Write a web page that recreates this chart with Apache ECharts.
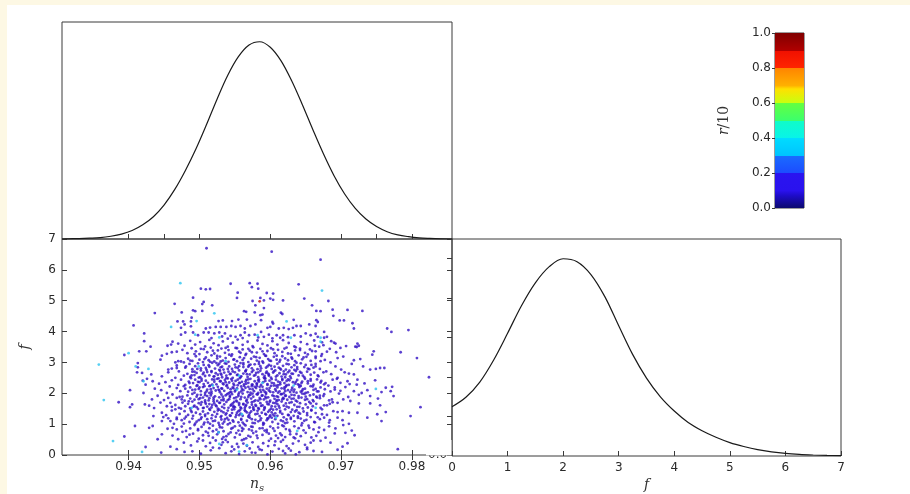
<!DOCTYPE html>
<html><head><meta charset="utf-8">
<script src="https://cdn.jsdelivr.net/npm/echarts@6/dist/echarts.min.js"></script>
<style>html,body{margin:0;padding:0;background:#ffffff;}#c{position:absolute;left:0;top:0;width:910px;height:494px;}</style>
</head><body><div id="c"></div>
<script>
// ---------- data ----------
const nsRange = [0.9306, 0.98565];
const fRange = [0, 7];
const nsTicks = [0.94, 0.95, 0.96, 0.97, 0.98];
const nsTopPanelTicks = [0.94, 0.945, 0.95, 0.96, 0.97, 0.975, 0.98];
const fPanelYTicks = [0.2, 0.4, 0.6, 0.8, 1.0];
const cbTicks = [0, 0.2, 0.4, 0.6, 0.8, 1.0];

// marginal of n_s (normalised to peak 1)
const nsCurveX = [0.9306,0.9315,0.9330,0.9345,0.9360,0.9375,0.9390,0.9405,0.9420,0.9435,0.9450,0.9465,0.9480,0.9495,0.9510,0.9525,0.9540,0.9555,0.9570,0.9585,0.9600,0.9615,0.9630,0.9645,0.9660,0.9675,0.9690,0.9705,0.9720,0.9735,0.9750,0.9765,0.9780,0.9795,0.9810,0.9825,0.9840,0.9857];
const nsCurveY = [0.000,0.001,0.002,0.004,0.007,0.014,0.025,0.043,0.072,0.113,0.172,0.250,0.346,0.456,0.580,0.710,0.830,0.924,0.983,1.000,0.972,0.904,0.803,0.683,0.555,0.432,0.321,0.228,0.155,0.101,0.063,0.037,0.021,0.012,0.006,0.003,0.001,0.000];

// marginal of f (normalised to peak 1)
const fCurveX = [0,0.25,0.5,0.75,1.0,1.25,1.5,1.75,2.0,2.25,2.5,2.75,3.0,3.25,3.5,3.75,4.0,4.25,4.5,4.75,5.0,5.25,5.5,5.75,6.0,6.25,6.5,6.75,7.0];
const fCurveY = [0.250,0.298,0.375,0.487,0.622,0.762,0.878,0.960,1.000,0.985,0.920,0.808,0.660,0.515,0.395,0.300,0.228,0.170,0.128,0.095,0.068,0.048,0.032,0.021,0.013,0.008,0.005,0.003,0.002];

// samples [n_s, f], grouped by colour value r/10
const samplesLowR = [
[0.9510,6.70],[0.9602,6.59],[0.9671,6.33],
[0.9544,5.55],[0.9571,5.57],[0.9582,5.55],[0.9640,5.53],
[0.9502,5.39],[0.9509,5.37],[0.9515,5.38],[0.9574,5.44],[0.9583,5.39],
[0.9554,5.26],[0.9595,5.25],[0.9604,5.23],
[0.9553,5.09],[0.9491,5.10],[0.9586,5.09],[0.9600,5.07],[0.9648,5.07],
[0.9575,4.99],[0.9506,4.96],[0.9591,5.01],[0.9604,5.03],[0.9618,5.01],[0.9682,4.99],
[0.9465,4.90],[0.9504,4.89],[0.9518,4.85],[0.9579,4.85],[0.9659,4.85],
[0.9591,4.76],[0.9688,4.71],[0.9709,4.70],[0.9730,4.67],[0.9665,4.67],[0.9671,4.66],
[0.9437,4.60],[0.9475,4.62],[0.9491,4.69],[0.9494,4.66],[0.9504,4.67],[0.9563,4.66],[0.9566,4.64],[0.9578,4.62],[0.9615,4.61],[0.9617,4.57],
[0.9586,4.53],[0.9589,4.55],[0.9689,4.51],[0.9489,4.45],
[0.9469,4.33],[0.9477,4.33],[0.9488,4.33],[0.9527,4.34],[0.9533,4.36],[0.9546,4.34],[0.9555,4.39],[0.9567,4.39],[0.9587,4.37],[0.9603,4.31],[0.9604,4.26],[0.9633,4.38],[0.9665,4.37],[0.9667,4.31],[0.9698,4.36],[0.9704,4.36],[0.9716,4.27],
[0.9407,4.20],[0.9474,4.12],[0.9479,4.23],[0.9488,4.17],[0.9509,4.10],[0.9515,4.13],[0.9523,4.15],[0.9530,4.15],[0.9538,4.15],[0.9545,4.18],[0.9551,4.15],[0.9558,4.18],[0.9564,4.10],[0.9572,4.18],[0.9579,4.23],[0.9596,4.12],[0.9600,4.15],[0.9612,4.10],[0.9619,4.12],[0.9626,4.08],[0.9632,4.12],[0.9637,4.18],[0.9643,4.18],[0.9655,4.23],[0.9664,4.18],[0.9718,4.10],[0.9765,4.10],[0.9795,4.05],
[0.9422,3.94],[0.9474,3.90],[0.9480,3.97],[0.9491,3.97],[0.9498,3.88],[0.9506,3.97],[0.9513,3.97],[0.9521,3.94],[0.9528,3.97],[0.9536,3.94],[0.9544,3.86],[0.9551,3.83],[0.9558,3.88],[0.9564,3.97],[0.9570,3.88],[0.9578,3.90],[0.9587,3.99],[0.9591,3.83],[0.9598,3.90],[0.9603,3.78],[0.9609,3.88],[0.9614,3.80],[0.9618,3.88],[0.9625,3.82],[0.9634,3.88],[0.9643,3.84],[0.9650,3.94],[0.9657,3.88],[0.9664,3.93],[0.9667,3.83],[0.9676,3.80],[0.9680,3.83],[0.9676,3.99],[0.9771,3.99],
[0.9517,3.79],[0.9540,3.77],[0.9561,3.79],[0.9583,3.81],[0.9532,3.84],
[0.9422,3.69],[0.9431,3.51],[0.9455,3.54],[0.9460,3.58],[0.9462,3.67],[0.9686,3.69],[0.9692,3.61],[0.9723,3.61],[0.9725,3.54],[0.9720,3.51],[0.9673,3.65],[0.9663,3.54],[0.9669,3.51],
[0.9470,3.61],[0.9479,3.54],[0.9487,3.70],[0.9494,3.58],[0.9501,3.66],[0.9508,3.52],[0.9514,3.73],[0.9520,3.62],[0.9527,3.56],[0.9533,3.68],[0.9540,3.51],[0.9547,3.64],[0.9554,3.74],[0.9561,3.57],[0.9568,3.67],[0.9575,3.53],[0.9582,3.71],[0.9589,3.60],[0.9596,3.55],[0.9603,3.69],[0.9610,3.58],[0.9618,3.72],[0.9626,3.63],[0.9634,3.52],[0.9643,3.66],[0.9652,3.59],[0.9662,3.71],[0.9675,3.56],[0.9690,3.64],[0.9707,3.53],
[0.9476,3.41],[0.9483,3.30],[0.9489,3.46],[0.9495,3.36],[0.9500,3.27],[0.9506,3.43],[0.9511,3.33],[0.9516,3.48],[0.9521,3.29],[0.9526,3.39],[0.9531,3.45],[0.9536,3.31],[0.9541,3.40],[0.9546,3.26],[0.9551,3.47],[0.9556,3.35],[0.9561,3.42],[0.9566,3.28],[0.9571,3.38],[0.9576,3.49],[0.9581,3.32],[0.9586,3.44],[0.9591,3.27],[0.9596,3.37],[0.9601,3.46],[0.9606,3.30],[0.9611,3.41],[0.9617,3.34],[0.9623,3.48],[0.9629,3.28],[0.9635,3.39],[0.9642,3.45],[0.9649,3.31],[0.9656,3.42],[0.9664,3.36],[0.9673,3.27],[0.9684,3.44],
[0.9484,3.12],[0.9490,3.05],[0.9495,3.20],[0.9500,3.09],[0.9505,3.01],[0.9509,3.16],[0.9513,3.07],[0.9517,3.23],[0.9521,3.03],[0.9525,3.13],[0.9529,3.19],[0.9533,3.06],[0.9537,3.14],[0.9541,3.02],[0.9545,3.21],[0.9549,3.10],[0.9553,3.04],[0.9557,3.17],[0.9561,3.08],[0.9565,3.24],[0.9569,3.01],[0.9573,3.12],[0.9577,3.19],[0.9581,3.06],[0.9585,3.15],[0.9589,3.03],[0.9593,3.22],[0.9597,3.11],[0.9601,3.05],[0.9605,3.18],[0.9609,3.09],[0.9613,3.02],[0.9617,3.20],[0.9621,3.13],[0.9625,3.07],[0.9630,3.16],[0.9635,3.04],[0.9640,3.23],[0.9645,3.10],[0.9651,3.18],[0.9657,3.05],[0.9664,3.14],[0.9672,3.21],[0.9677,3.08],[0.9703,3.19],[0.9727,3.11],
[0.9468,2.90],[0.9480,2.83],[0.9486,2.95],[0.9490,2.78],[0.9494,2.88],[0.9498,2.97],[0.9502,2.81],[0.9506,2.92],[0.9510,2.76],[0.9514,2.86],[0.9518,2.99],[0.9522,2.80],[0.9526,2.91],[0.9530,2.84],[0.9534,2.77],[0.9538,2.96],[0.9542,2.87],[0.9546,2.79],[0.9550,2.93],[0.9554,2.82],[0.9558,2.98],[0.9562,2.85],[0.9566,2.76],[0.9570,2.90],[0.9574,2.81],[0.9578,2.94],[0.9582,2.78],[0.9586,2.88],[0.9590,2.99],[0.9594,2.83],[0.9598,2.92],[0.9602,2.79],[0.9606,2.86],[0.9610,2.96],[0.9614,2.80],[0.9618,2.89],[0.9622,2.77],[0.9626,2.94],[0.9630,2.84],[0.9634,2.91],[0.9638,2.78],[0.9643,2.97],[0.9648,2.85],[0.9653,2.80],[0.9658,2.92],[0.9664,2.87],[0.9670,2.79],[0.9715,2.95],[0.9562,2.93],[0.9596,2.87],[0.9528,2.96],
[0.9483,2.63],[0.9487,2.53],[0.9490,2.70],[0.9493,2.59],[0.9496,2.66],[0.9499,2.51],[0.9502,2.74],[0.9505,2.62],[0.9508,2.56],[0.9511,2.69],[0.9514,2.58],[0.9517,2.72],[0.9520,2.54],[0.9523,2.65],[0.9526,2.60],[0.9529,2.73],[0.9532,2.52],[0.9535,2.67],[0.9538,2.57],[0.9541,2.70],[0.9544,2.63],[0.9547,2.50],[0.9550,2.68],[0.9553,2.59],[0.9556,2.74],[0.9559,2.55],[0.9562,2.64],[0.9565,2.71],[0.9568,2.53],[0.9571,2.61],[0.9574,2.69],[0.9577,2.57],[0.9580,2.66],[0.9583,2.52],[0.9586,2.73],[0.9589,2.62],[0.9592,2.56],[0.9595,2.70],[0.9598,2.60],[0.9601,2.51],[0.9604,2.67],[0.9607,2.74],[0.9610,2.58],[0.9613,2.65],[0.9616,2.54],[0.9619,2.71],[0.9622,2.61],[0.9625,2.68],[0.9628,2.55],[0.9632,2.63],[0.9636,2.72],[0.9640,2.58],[0.9644,2.66],[0.9648,2.52],[0.9652,2.70],[0.9657,2.60],[0.9662,2.67],[0.9668,2.55],[0.9686,2.62],[0.9456,2.68],[0.9567,2.62],[0.9597,2.64],[0.9531,2.60],
[0.9443,2.31],[0.9461,2.42],[0.9480,2.27],[0.9485,2.38],[0.9488,2.49],[0.9491,2.33],[0.9494,2.44],[0.9497,2.26],[0.9500,2.36],[0.9503,2.47],[0.9506,2.30],[0.9509,2.41],[0.9512,2.34],[0.9515,2.25],[0.9518,2.45],[0.9521,2.37],[0.9524,2.29],[0.9527,2.48],[0.9530,2.39],[0.9533,2.32],[0.9536,2.43],[0.9539,2.27],[0.9542,2.35],[0.9545,2.46],[0.9548,2.31],[0.9551,2.40],[0.9554,2.26],[0.9557,2.49],[0.9560,2.37],[0.9563,2.29],[0.9566,2.43],[0.9569,2.34],[0.9572,2.47],[0.9575,2.28],[0.9578,2.39],[0.9581,2.32],[0.9584,2.45],[0.9587,2.27],[0.9590,2.36],[0.9593,2.48],[0.9596,2.30],[0.9599,2.41],[0.9602,2.34],[0.9605,2.25],[0.9608,2.44],[0.9611,2.38],[0.9614,2.29],[0.9617,2.46],[0.9620,2.33],[0.9623,2.40],[0.9626,2.27],[0.9629,2.49],[0.9632,2.36],[0.9635,2.31],[0.9638,2.43],[0.9641,2.26],[0.9645,2.38],[0.9649,2.47],[0.9653,2.32],[0.9657,2.41],[0.9661,2.28],[0.9666,2.45],[0.9671,2.35],[0.9676,2.29],[0.9694,2.47],[0.9712,2.30],[0.9748,2.42],[0.9556,2.34],[0.9583,2.42],[0.9611,2.26],[0.9540,2.48],[0.9625,2.45],
[0.9437,2.15],[0.9458,2.22],[0.9484,2.05],[0.9487,2.19],[0.9490,2.11],[0.9493,2.02],[0.9496,2.24],[0.9499,2.14],[0.9502,2.07],[0.9505,2.20],[0.9508,2.01],[0.9511,2.12],[0.9514,2.23],[0.9517,2.05],[0.9520,2.17],[0.9523,2.09],[0.9526,2.21],[0.9529,2.03],[0.9532,2.15],[0.9535,2.08],[0.9538,2.24],[0.9541,2.00],[0.9544,2.13],[0.9547,2.19],[0.9550,2.06],[0.9553,2.16],[0.9556,2.02],[0.9559,2.22],[0.9562,2.10],[0.9565,2.18],[0.9568,2.04],[0.9571,2.14],[0.9574,2.23],[0.9577,2.07],[0.9580,2.17],[0.9583,2.01],[0.9586,2.11],[0.9589,2.21],[0.9592,2.05],[0.9595,2.15],[0.9598,2.09],[0.9601,2.24],[0.9604,2.03],[0.9607,2.13],[0.9610,2.19],[0.9613,2.06],[0.9616,2.16],[0.9619,2.00],[0.9622,2.22],[0.9625,2.10],[0.9628,2.04],[0.9631,2.18],[0.9634,2.12],[0.9637,2.02],[0.9641,2.20],[0.9645,2.08],[0.9649,2.15],[0.9653,2.03],[0.9657,2.23],[0.9661,2.11],[0.9666,2.06],[0.9671,2.19],[0.9677,2.13],[0.9699,2.08],[0.9706,2.20],[0.9737,2.10],[0.9757,2.04],[0.9545,2.04],[0.9569,2.21],[0.9594,2.02],[0.9620,2.14],[0.9527,2.12],[0.9643,2.05],[0.9581,2.24],[0.9500,2.19],
[0.9441,1.92],[0.9450,1.78],[0.9462,1.96],[0.9472,1.88],[0.9479,1.76],[0.9483,1.93],[0.9487,1.83],[0.9490,1.98],[0.9493,1.79],[0.9496,1.89],[0.9499,1.81],[0.9502,1.95],[0.9505,1.86],[0.9508,1.77],[0.9511,1.91],[0.9514,1.84],[0.9517,1.99],[0.9520,1.80],[0.9522,1.90],[0.9525,1.75],[0.9528,1.87],[0.9531,1.96],[0.9534,1.82],[0.9537,1.93],[0.9540,1.78],[0.9543,1.88],[0.9546,1.97],[0.9549,1.84],[0.9552,1.76],[0.9555,1.91],[0.9558,1.81],[0.9561,1.99],[0.9564,1.86],[0.9567,1.79],[0.9570,1.94],[0.9573,1.83],[0.9576,1.89],[0.9579,1.77],[0.9582,1.96],[0.9585,1.85],[0.9588,1.92],[0.9591,1.80],[0.9594,1.98],[0.9597,1.87],[0.9600,1.76],[0.9603,1.93],[0.9606,1.82],[0.9609,1.90],[0.9612,1.78],[0.9615,1.97],[0.9618,1.85],[0.9621,1.92],[0.9624,1.79],[0.9627,1.88],[0.9630,1.95],[0.9633,1.83],[0.9636,1.76],[0.9640,1.91],[0.9644,1.86],[0.9648,1.98],[0.9652,1.81],[0.9656,1.93],[0.9660,1.78],[0.9665,1.89],[0.9670,1.84],[0.9676,1.97],[0.9683,1.77],[0.9710,1.88],[0.9725,1.95],[0.9752,1.83],[0.9559,1.88],[0.9593,1.89],[0.9534,1.77],[0.9617,1.80],[0.9575,1.99],[0.9508,1.94],[0.9650,1.89],
[0.9466,1.62],[0.9471,1.53],[0.9476,1.70],[0.9480,1.58],[0.9484,1.66],[0.9487,1.51],[0.9490,1.73],[0.9493,1.60],[0.9496,1.55],[0.9499,1.68],[0.9502,1.63],[0.9505,1.52],[0.9508,1.71],[0.9511,1.57],[0.9514,1.65],[0.9517,1.54],[0.9520,1.74],[0.9523,1.61],[0.9526,1.50],[0.9529,1.69],[0.9532,1.56],[0.9535,1.64],[0.9538,1.72],[0.9541,1.53],[0.9544,1.60],[0.9547,1.67],[0.9550,1.55],[0.9553,1.73],[0.9556,1.62],[0.9559,1.51],[0.9562,1.66],[0.9565,1.58],[0.9568,1.70],[0.9571,1.54],[0.9574,1.63],[0.9577,1.74],[0.9580,1.59],[0.9583,1.52],[0.9586,1.68],[0.9589,1.61],[0.9592,1.55],[0.9595,1.72],[0.9598,1.64],[0.9601,1.50],[0.9604,1.69],[0.9607,1.57],[0.9610,1.65],[0.9613,1.53],[0.9616,1.73],[0.9619,1.60],[0.9622,1.67],[0.9626,1.54],[0.9630,1.71],[0.9634,1.62],[0.9638,1.56],[0.9642,1.68],[0.9646,1.51],[0.9650,1.64],[0.9655,1.72],[0.9660,1.58],[0.9665,1.66],[0.9671,1.53],[0.9688,1.71],[0.9454,1.58],[0.9445,1.70],[0.9436,1.52],[0.9566,1.62],[0.9521,1.67],[0.9609,1.74],[0.9548,1.59],
[0.9484,1.30],[0.9488,1.44],[0.9491,1.27],[0.9495,1.37],[0.9498,1.49],[0.9501,1.32],[0.9505,1.41],[0.9508,1.26],[0.9512,1.35],[0.9515,1.46],[0.9518,1.29],[0.9521,1.40],[0.9525,1.33],[0.9528,1.47],[0.9531,1.26],[0.9534,1.38],[0.9537,1.31],[0.9540,1.44],[0.9543,1.28],[0.9546,1.36],[0.9549,1.48],[0.9552,1.30],[0.9555,1.42],[0.9558,1.34],[0.9561,1.27],[0.9564,1.45],[0.9567,1.38],[0.9570,1.29],[0.9573,1.41],[0.9576,1.49],[0.9579,1.32],[0.9582,1.43],[0.9585,1.26],[0.9588,1.37],[0.9591,1.46],[0.9594,1.31],[0.9597,1.40],[0.9600,1.28],[0.9604,1.47],[0.9607,1.35],[0.9610,1.27],[0.9614,1.43],[0.9617,1.33],[0.9621,1.48],[0.9625,1.30],[0.9629,1.39],[0.9633,1.27],[0.9637,1.45],[0.9642,1.34],[0.9647,1.41],[0.9652,1.29],[0.9658,1.46],[0.9664,1.36],[0.9472,1.33],[0.9461,1.44],[0.9453,1.29],[0.9680,1.30],[0.9557,1.45],[0.9602,1.38],[0.9531,1.42],
[0.9486,1.07],[0.9490,1.18],[0.9494,1.02],[0.9499,1.13],[0.9503,1.22],[0.9507,1.05],[0.9511,1.16],[0.9515,1.01],[0.9519,1.10],[0.9523,1.24],[0.9527,1.04],[0.9531,1.15],[0.9535,1.08],[0.9539,1.20],[0.9543,1.03],[0.9547,1.12],[0.9551,1.23],[0.9555,1.06],[0.9559,1.17],[0.9563,1.00],[0.9567,1.11],[0.9571,1.21],[0.9575,1.04],[0.9579,1.14],[0.9583,1.09],[0.9587,1.19],[0.9591,1.02],[0.9595,1.13],[0.9599,1.24],[0.9603,1.07],[0.9607,1.16],[0.9611,1.01],[0.9615,1.12],[0.9619,1.22],[0.9624,1.05],[0.9629,1.17],[0.9634,1.09],[0.9639,1.20],[0.9645,1.03],[0.9651,1.14],[0.9657,1.23],[0.9663,1.06],[0.9670,1.16],[0.9478,1.02],[0.9468,1.16],[0.9456,1.19],[0.9597,1.18],[0.9541,1.14],
[0.9475,0.92],[0.9481,0.78],[0.9487,0.86],[0.9493,0.97],[0.9498,0.80],[0.9503,0.91],[0.9509,0.76],[0.9514,0.87],[0.9519,0.95],[0.9524,0.82],[0.9529,0.90],[0.9534,0.77],[0.9540,0.99],[0.9545,0.85],[0.9550,0.93],[0.9555,0.79],[0.9560,0.88],[0.9565,0.96],[0.9570,0.83],[0.9575,0.91],[0.9580,0.76],[0.9585,0.86],[0.9590,0.98],[0.9595,0.81],[0.9600,0.92],[0.9606,0.78],[0.9611,0.89],[0.9617,0.96],[0.9622,0.84],[0.9628,0.76],[0.9634,0.93],[0.9640,0.87],[0.9647,0.80],[0.9654,0.95],[0.9661,0.83],[0.9683,0.93],[0.9692,0.86],[0.9703,0.97],[0.9715,0.79],[0.9560,0.78],
[0.9482,0.58],[0.9491,0.69],[0.9499,0.53],[0.9505,0.64],[0.9512,0.72],[0.9519,0.56],[0.9525,0.67],[0.9532,0.52],[0.9538,0.61],[0.9544,0.73],[0.9550,0.57],[0.9557,0.66],[0.9563,0.51],[0.9569,0.62],[0.9576,0.71],[0.9582,0.55],[0.9589,0.65],[0.9595,0.74],[0.9601,0.53],[0.9608,0.63],[0.9614,0.70],[0.9621,0.58],[0.9628,0.67],[0.9635,0.54],[0.9643,0.61],[0.9650,0.72],[0.9658,0.57],[0.9462,0.63],[0.9572,0.59],[0.9527,0.74],
[0.9488,0.31],[0.9497,0.44],[0.9509,0.28],[0.9515,0.39],[0.9523,0.47],[0.9531,0.33],[0.9540,0.42],[0.9546,0.27],[0.9553,0.36],[0.9560,0.48],[0.9567,0.30],[0.9575,0.41],[0.9583,0.26],[0.9590,0.38],[0.9598,0.46],[0.9606,0.32],[0.9615,0.43],[0.9623,0.29],[0.9632,0.37],[0.9640,0.45],[0.9618,0.49],[0.9537,0.49],
[0.9502,0.04],[0.9516,0.15],[0.9528,0.22],[0.9537,0.06],[0.9549,0.18],[0.9556,0.03],[0.9564,0.12],[0.9571,0.21],[0.9579,0.07],[0.9588,0.16],[0.9596,0.02],[0.9603,0.11],[0.9612,0.20],[0.9621,0.05],[0.9629,0.14],[0.9641,0.09],[0.9652,0.19],[0.9490,0.12],
[0.9394,3.24],[0.9425,3.36],[0.9415,3.36],[0.9413,2.98],[0.9445,3.09],[0.9447,3.22],[0.9454,3.28],[0.9461,3.33],[0.9468,3.35],[0.9466,3.00],[0.9470,3.04],[0.9474,3.03],[0.9478,3.00],[0.9413,2.84],[0.9456,2.77],[0.9461,2.80],[0.9468,2.82],[0.9471,2.71],[0.9412,2.68],[0.9419,2.66],[0.9432,2.61],[0.9447,2.55],[0.9466,2.50],[0.9474,2.44],[0.9478,2.57],[0.9426,2.47],[0.9434,2.39],[0.9420,2.41],[0.9452,2.36],[0.9424,2.28],[0.9468,2.17],[0.9478,2.23],[0.9402,2.10],[0.9421,2.01],[0.9446,2.10],[0.9454,2.01],[0.9473,2.07],[0.9433,1.80],[0.9456,1.85],[0.9468,1.85],[0.9475,1.80],[0.9386,1.71],[0.9405,1.64],[0.9402,1.55],[0.9423,1.64],[0.9429,1.60],[0.9459,1.69],[0.9461,1.56],[0.9466,1.48],[0.9474,1.50],[0.9479,1.42],[0.9447,1.37],[0.9435,1.26],[0.9449,1.23],[0.9468,1.21],[0.9475,1.13],[0.9481,1.24],[0.9447,1.10],[0.9459,1.10],[0.9464,1.01],[0.9409,0.94],[0.9429,0.88],[0.9434,0.94],[0.9455,0.85],[0.9462,0.88],[0.9468,0.83],[0.9476,0.75],[0.9394,0.60],[0.9447,0.67],[0.9441,0.51],[0.9470,0.51],[0.9424,0.26],[0.9459,0.27],[0.9478,0.40],[0.9446,0.08],[0.9468,0.19],[0.9479,0.10],
[0.9722,3.50],[0.9746,3.36],[0.9744,3.25],[0.9784,3.33],[0.9807,3.14],[0.9824,2.52],[0.9718,3.07],[0.9731,2.87],[0.9741,2.77],[0.9749,2.79],[0.9755,2.82],[0.9761,2.82],[0.9705,2.68],[0.9711,2.64],[0.9718,2.61],[0.9723,2.44],[0.9709,2.39],[0.9699,2.34],[0.9733,2.32],[0.9722,2.28],[0.9763,2.18],[0.9772,2.21],[0.9770,2.07],[0.9774,1.91],[0.9718,2.07],[0.9729,2.01],[0.9741,1.91],[0.9703,1.80],[0.9713,1.75],[0.9725,1.67],[0.9741,1.67],[0.9755,1.61],[0.9812,1.55],[0.9751,1.32],[0.9763,1.39],[0.9702,1.42],[0.9711,1.37],[0.9723,1.37],[0.9737,1.21],[0.9798,1.26],[0.9757,1.10],[0.9695,1.21],[0.9702,1.13],[0.9711,1.01],[0.9706,0.72],[0.9719,0.64],[0.9691,0.70],[0.9678,0.56],[0.9685,0.40],[0.9709,0.38],[0.9702,0.27],[0.9695,0.17],[0.9780,0.19],[0.9669,0.89],[0.9676,0.81],[0.9683,1.05],[0.9665,0.62],[0.9671,0.46],[0.9657,0.40],[0.9652,0.24],[0.9661,0.13],[0.9673,0.10],[0.9699,3.47],[0.9693,3.33],[0.9695,3.14],[0.9685,3.00],[0.9692,2.87],[0.9700,2.77],[0.9679,2.71],[0.9688,2.44],[0.9695,2.50],[0.9682,2.25],[0.9691,2.12],[0.9697,1.99],[0.9675,1.91],[0.9687,1.80],[0.9695,1.69],[0.9680,1.61],[0.9673,1.48],[0.9689,1.42],[0.9695,1.39],[0.9676,1.21],[0.9684,1.13],
[0.9513,0.62],[0.9547,0.88],[0.9566,0.54],[0.9592,0.79],[0.9619,0.93],[0.9637,0.68],[0.9528,0.97],[0.9581,0.63],[0.9604,0.86],[0.9552,0.71],[0.9498,0.84],[0.9644,0.96],[0.9573,0.92],[0.9534,0.58],[0.9611,0.55],[0.9589,0.87],[0.9506,0.99],[0.9627,0.81],[0.9541,0.68],[0.9668,0.74],[0.9557,0.95],[0.9519,0.77],[0.9598,0.69],[0.9633,0.57],[0.9574,0.79],[0.9486,0.66],[0.9655,0.88],[0.9616,0.64],[0.9562,0.84],[0.9532,0.89],
[0.9496,1.08],[0.9508,1.31],[0.9517,1.19],[0.9526,1.44],[0.9533,1.02],[0.9544,1.27],[0.9553,1.37],[0.9561,1.05],[0.9569,1.24],[0.9577,1.46],[0.9586,1.13],[0.9593,1.33],[0.9602,1.21],[0.9609,1.48],[0.9618,1.09],[0.9626,1.29],[0.9635,1.41],[0.9643,1.18],[0.9652,1.36],[0.9662,1.07],[0.9673,1.32],[0.9489,1.39],[0.9502,1.17],[0.9514,1.49],[0.9522,1.11],[0.9538,1.35],[0.9548,1.08],[0.9556,1.29],[0.9565,1.42],[0.9574,1.16],[0.9582,1.34],[0.9590,1.04],[0.9599,1.45],[0.9606,1.26],[0.9614,1.38],[0.9623,1.15],[0.9631,1.47],[0.9639,1.25],[0.9648,1.11],[0.9658,1.44],[0.9667,1.22],[0.9479,1.18],[0.9530,1.23],[0.9571,1.36],[0.9596,1.19],[0.9621,1.03],[0.9546,1.47],[0.9512,1.06],[0.9584,1.49],[0.9640,1.37],[0.9559,1.14],[0.9604,1.31],[0.9536,1.16],[0.9578,1.03],[0.9629,1.21],
[0.9492,1.57],[0.9501,1.84],[0.9509,1.66],[0.9516,1.93],[0.9524,1.58],[0.9531,1.78],[0.9539,1.97],[0.9545,1.63],[0.9552,1.87],[0.9558,1.54],[0.9566,1.75],[0.9572,1.95],[0.9579,1.62],[0.9586,1.81],[0.9592,1.51],[0.9599,1.72],[0.9605,1.91],[0.9612,1.59],[0.9619,1.83],[0.9627,1.69],[0.9634,1.94],[0.9641,1.56],[0.9649,1.79],[0.9657,1.67],[0.9666,1.86],[0.9676,1.61],[0.9485,1.74],[0.9497,1.95],[0.9506,1.53],[0.9513,1.77],[0.9520,1.86],[0.9528,1.69],[0.9535,1.52],[0.9542,1.81],[0.9549,1.72],[0.9555,1.96],[0.9562,1.64],[0.9569,1.88],[0.9576,1.55],[0.9583,1.76],[0.9589,1.93],[0.9596,1.65],[0.9602,1.58],[0.9609,1.78],[0.9616,1.97],[0.9623,1.57],[0.9630,1.82],[0.9638,1.73],[0.9645,1.99],[0.9653,1.54],[0.9661,1.74],[0.9670,1.92],[0.9684,1.66],[0.9476,1.89],[0.9556,1.68],[0.9581,1.97],[0.9607,1.68],[0.9533,1.89],[0.9594,1.84],[0.9564,1.52],[0.9622,1.92],[0.9548,1.55],[0.9518,1.62],[0.9640,1.85],[0.9574,1.71],[0.9503,1.71],[0.9587,1.59],[0.9611,1.88],[0.9661,1.96],[0.9543,1.92],
[0.9486,2.33],[0.9494,2.12],[0.9503,2.41],[0.9510,2.06],[0.9518,2.28],[0.9525,2.47],[0.9531,2.16],[0.9537,2.36],[0.9543,2.03],[0.9549,2.26],[0.9554,2.44],[0.9560,2.14],[0.9566,2.31],[0.9572,2.02],[0.9578,2.21],[0.9584,2.38],[0.9590,2.11],[0.9596,2.27],[0.9602,2.46],[0.9608,2.08],[0.9614,2.35],[0.9620,2.19],[0.9627,2.42],[0.9633,2.05],[0.9639,2.29],[0.9646,2.13],[0.9653,2.39],[0.9660,2.22],[0.9668,2.06],[0.9678,2.33],[0.9691,2.19],[0.9480,2.15],[0.9498,2.37],[0.9507,2.23],[0.9514,2.01],[0.9521,2.44],[0.9528,2.09],[0.9534,2.29],[0.9540,2.18],[0.9546,2.41],[0.9551,2.10],[0.9557,2.33],[0.9563,2.24],[0.9569,2.45],[0.9575,2.13],[0.9581,2.30],[0.9587,2.04],[0.9593,2.40],[0.9599,2.17],[0.9605,2.32],[0.9611,2.02],[0.9617,2.43],[0.9623,2.26],[0.9630,2.11],[0.9636,2.37],[0.9643,2.24],[0.9650,2.01],[0.9657,2.46],[0.9664,2.14],[0.9672,2.40],[0.9685,2.06],[0.9470,2.27],[0.9559,2.06],[0.9585,2.21],[0.9608,2.25],[0.9538,2.49],[0.9565,2.38],[0.9621,2.07],[0.9592,2.48],[0.9516,2.13],[0.9644,2.33],[0.9574,2.28],[0.9548,2.16],[0.9600,2.05],[0.9529,2.39],
[0.9489,2.58],[0.9497,2.79],[0.9506,2.67],[0.9513,2.91],[0.9521,2.55],[0.9528,2.76],[0.9536,2.97],[0.9543,2.62],[0.9551,2.84],[0.9558,2.53],[0.9565,2.72],[0.9572,2.93],[0.9579,2.59],[0.9587,2.81],[0.9594,2.66],[0.9601,2.89],[0.9608,2.54],[0.9615,2.77],[0.9623,2.95],[0.9630,2.64],[0.9638,2.85],[0.9646,2.57],[0.9655,2.78],[0.9664,2.95],[0.9675,2.68],[0.9481,2.87],[0.9501,2.52],[0.9517,2.69],[0.9532,2.86],[0.9547,2.71],[0.9562,2.98],[0.9576,2.74],[0.9591,2.51],[0.9605,2.71],[0.9619,2.62],[0.9634,2.76],[0.9650,2.92],[0.9667,2.58],[0.9524,2.98],[0.9554,2.60],[0.9584,2.95],[0.9612,2.83],[0.9642,2.69],[0.9509,2.82],[0.9569,2.86],[0.9598,2.57],[0.9627,2.73],[0.9540,2.79],[0.9661,2.83],[0.9493,2.70],[0.9583,2.68],[0.9556,2.88],[0.9621,2.52],[0.9637,2.99],[0.9530,2.64],
[0.9493,3.27],[0.9507,3.11],[0.9519,3.38],[0.9530,3.03],[0.9542,3.25],[0.9553,3.46],[0.9563,3.14],[0.9574,3.33],[0.9584,3.02],[0.9594,3.21],[0.9604,3.42],[0.9614,3.08],[0.9625,3.29],[0.9636,3.49],[0.9647,3.16],[0.9659,3.37],[0.9671,3.04],[0.9502,3.44],[0.9525,3.21],[0.9548,3.09],[0.9569,3.44],[0.9589,3.36],[0.9609,3.22],[0.9631,3.12],[0.9653,3.26],[0.9680,3.35],[0.9515,3.02],[0.9558,3.31],[0.9599,3.06],[0.9642,3.40],[0.9537,3.47],[0.9580,3.17],[0.9620,3.45],[0.9487,3.06],[0.9664,3.19],
[0.9519,0.24],[0.9545,0.12],[0.9562,0.37],[0.9585,0.18],[0.9607,0.44],[0.9626,0.21],[0.9649,0.33],[0.9533,0.41],[0.9574,0.08],[0.9597,0.29],[0.9618,0.13],[0.9505,0.47],[0.9661,0.47],[0.9555,0.26],[0.9636,0.02]
];
const samplesMidR = [
[0.9473,5.57],[0.9521,4.59],[0.9496,4.34],[0.9460,4.15],[0.9494,3.90],[0.9673,5.33],[0.9623,4.33],[0.9582,3.88],[0.9629,3.80],[0.9671,3.80],[0.9671,3.67],[0.9400,3.30],[0.9358,2.93],[0.9410,2.87],[0.9428,2.79],[0.9421,2.39],[0.9365,1.78],[0.9378,0.45],[0.9419,0.10],[0.9749,2.14],[0.9589,2.34],[0.9608,1.21],[0.9638,0.78],[0.9664,1.53],[0.9553,2.12],[0.9560,1.32],[0.9527,0.73],[0.9567,0.32],[0.9489,1.53],[0.9499,2.87],[0.9537,3.04],[0.9528,3.81],[0.9556,2.57],[0.9633,2.25],[0.9519,2.25],[0.9528,0.36],[0.9556,0.11]
];
const samplesHighR = [[0.9585,4.98]];
const hiddenFPanelLabel = '0.0';

// ---------- chart ----------
const chart = echarts.init(document.getElementById('c'), null, {renderer: 'canvas'});
const tickFont = {fontFamily: 'DejaVu Sans', fontSize: 12, color: '#2a2a2a'};
const mathName = {fontFamily: 'DejaVu Serif', fontStyle: 'italic', fontSize: 14, color: '#333'};
const frame = {show: true, borderColor: '#3a3a3a', borderWidth: 1, backgroundColor: 'transparent'};
const tickStyle = {color: '#3a3a3a', width: 1};

const cbGradient = new echarts.graphic.LinearGradient(0, 1, 0, 0, [
  {offset: 0.00, color: '#0c0a6e'}, {offset: 0.07, color: '#1e0cc8'}, {offset: 0.10, color: '#2a12ee'},
  {offset: 0.20, color: '#2a14f0'}, {offset: 0.20, color: '#1c4cff'}, {offset: 0.30, color: '#1a6cff'},
  {offset: 0.30, color: '#00c4ff'}, {offset: 0.40, color: '#00dcff'}, {offset: 0.40, color: '#08f4e8'},
  {offset: 0.50, color: '#10fcc8'}, {offset: 0.50, color: '#3cff6c'}, {offset: 0.60, color: '#64ff40'},
  {offset: 0.60, color: '#c8ff10'}, {offset: 0.68, color: '#ffe000'}, {offset: 0.70, color: '#ffb000'},
  {offset: 0.80, color: '#ff8400'}, {offset: 0.80, color: '#ff2400'}, {offset: 0.90, color: '#f01000'},
  {offset: 0.90, color: '#b00000'}, {offset: 1.00, color: '#800000'}
]);

const option = {
  backgroundColor: '#ffffff',
  animation: false,
  graphic: [
    {type: 'rect', shape: {x: 0, y: 0, width: 910, height: 5}, style: {fill: '#fdf8e4'}, silent: true},
    {type: 'rect', shape: {x: 0, y: 0, width: 7, height: 494}, style: {fill: '#fdf8e4'}, silent: true},
    // y-axis label of the f panel, mostly hidden behind the scatter panel
    {type: 'text', z: 1, left: 428, top: 449, style: {text: hiddenFPanelLabel, fill: '#2a2a2a', font: '12px "DejaVu Sans"'}, silent: true},
    {type: 'rect', z: 2, shape: {x: 426, y: 440, width: 25.5, height: 15.4}, style: {fill: '#ffffff'}, silent: true}
  ],
  grid: [
    Object.assign({left: 62, top: 22, width: 390, height: 217}, frame),
    Object.assign({left: 62, top: 239, width: 390, height: 217}, frame),
    Object.assign({left: 452, top: 239, width: 389, height: 217}, frame),
    Object.assign({left: 775, top: 33, width: 29, height: 175}, frame)
  ],
  xAxis: [
    {gridIndex: 0, type: 'value', min: nsRange[0], max: nsRange[1],
     axisLine: {show: false}, splitLine: {show: false}, axisLabel: {show: false},
     axisTick: {show: true, inside: true, length: 5, lineStyle: tickStyle, customValues: nsTopPanelTicks}},
    {gridIndex: 1, type: 'value', min: nsRange[0], max: nsRange[1], position: 'bottom',
     axisLine: {show: false}, splitLine: {show: false},
     axisTick: {show: true, inside: true, length: 5, lineStyle: tickStyle, customValues: nsTicks},
     axisLabel: Object.assign({show: true, margin: 6, customValues: nsTicks, formatter: v => v.toFixed(2)}, tickFont),
     name: '{n|n}{s|s}', nameLocation: 'middle', nameGap: 20,
     nameTextStyle: {rich: {n: mathName, s: {fontFamily: 'DejaVu Serif', fontStyle: 'italic', fontSize: 10, color: '#333', padding: [8, 0, 0, 0]}}}},
    {gridIndex: 1, type: 'value', min: nsRange[0], max: nsRange[1], position: 'top',
     axisLine: {show: false}, splitLine: {show: false}, axisLabel: {show: false},
     axisTick: {show: true, inside: true, length: 5, lineStyle: tickStyle, customValues: nsTicks}},
    {gridIndex: 2, type: 'value', min: fRange[0], max: fRange[1], interval: 1,
     axisLine: {show: false}, splitLine: {show: false},
     axisTick: {show: true, inside: true, length: 5, lineStyle: tickStyle},
     axisLabel: Object.assign({show: true, margin: 6}, tickFont),
     name: 'f', nameLocation: 'middle', nameGap: 22, nameTextStyle: mathName},
    {gridIndex: 3, type: 'category', data: ['r'], show: false}
  ],
  yAxis: [
    {gridIndex: 0, type: 'value', min: 0, max: 1.1, show: false},
    {gridIndex: 1, type: 'value', min: fRange[0], max: fRange[1], interval: 1,
     axisLine: {show: false}, splitLine: {show: false},
     axisTick: {show: true, inside: true, length: 5, lineStyle: tickStyle},
     axisLabel: Object.assign({show: true, margin: 6}, tickFont),
     name: 'f', nameLocation: 'middle', nameGap: 30, nameRotate: 90, nameTextStyle: mathName},
    {gridIndex: 1, type: 'value', min: fRange[0], max: fRange[1], interval: 1, position: 'right',
     axisLine: {show: false}, splitLine: {show: false}, axisLabel: {show: false},
     axisTick: {show: true, inside: true, length: 5, lineStyle: tickStyle}},
    {gridIndex: 2, type: 'value', min: 0, max: 1.1,
     axisLine: {show: false}, splitLine: {show: false}, axisLabel: {show: false},
     axisTick: {show: true, inside: false, length: 5, lineStyle: tickStyle, customValues: fPanelYTicks}},
    {gridIndex: 3, type: 'value', min: 0, max: 1, interval: 0.2,
     axisLine: {show: false}, splitLine: {show: false},
     axisTick: {show: true, inside: false, length: 3, lineStyle: tickStyle},
     axisLabel: Object.assign({show: true, margin: 4, formatter: v => v.toFixed(1)}, tickFont),
     name: '{i|r}{u|/10}', nameLocation: 'middle', nameGap: 44, nameRotate: 90,
     nameTextStyle: {rich: {i: mathName, u: {fontFamily: 'DejaVu Serif', fontSize: 14, color: '#333'}}}}
  ],
  series: [
    {type: 'line', xAxisIndex: 0, yAxisIndex: 0, data: nsCurveX.map((x, i) => [x, nsCurveY[i]]),
     smooth: 0.35, showSymbol: false, lineStyle: {color: '#1a1a1a', width: 1.2}, silent: true},
    {type: 'scatter', xAxisIndex: 1, yAxisIndex: 1, data: samplesLowR, symbolSize: 2.8,
     itemStyle: {color: '#3210c4'}, silent: true},
    {type: 'scatter', xAxisIndex: 1, yAxisIndex: 1, data: samplesMidR, symbolSize: 2.8,
     itemStyle: {color: '#2cc4f0'}, silent: true},
    {type: 'scatter', xAxisIndex: 1, yAxisIndex: 1, data: samplesHighR, symbolSize: 2.8,
     itemStyle: {color: '#c01010'}, silent: true},
    {type: 'line', xAxisIndex: 3, yAxisIndex: 3, data: fCurveX.map((x, i) => [x, fCurveY[i]]),
     smooth: 0.35, showSymbol: false, lineStyle: {color: '#1a1a1a', width: 1.2}, silent: true},
    {type: 'bar', xAxisIndex: 4, yAxisIndex: 4, data: [cbTicks[cbTicks.length - 1]], barWidth: '100%',
     itemStyle: {color: cbGradient}, silent: true}
  ]
};
chart.setOption(option);
</script></body></html>
